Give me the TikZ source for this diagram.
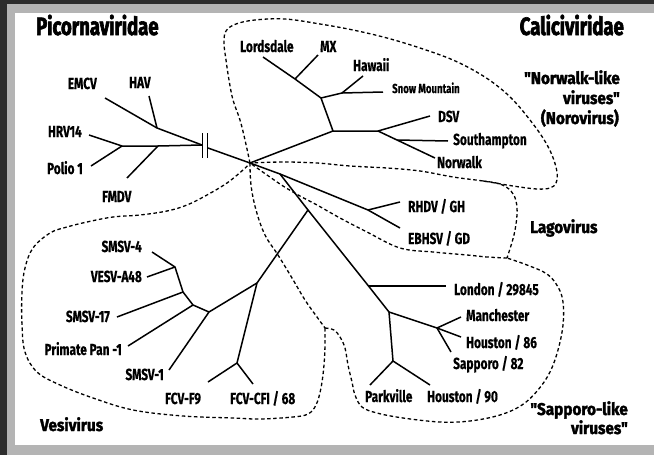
\documentclass[tikz,border=0pt]{standalone}
\usepackage{fontspec}
\setmainfont{Fira Sans}
\newfontfamily\labf{Fira Sans}[FakeStretch=0.74, BoldFeatures={FakeBold=0.5}]
\newfontfamily\titf{Fira Sans}[FakeStretch=0.74, BoldFeatures={FakeBold=2.5}]
\newfontfamily\subf{Fira Sans}[FakeStretch=0.9, BoldFeatures={FakeBold=2}]
\definecolor{darkband}{HTML}{2D2D2D}
\definecolor{lightband}{HTML}{B4B4B4}
\begin{document}
\begin{tikzpicture}[x=1pt,y=-1pt,
  br/.style={line width=1.5pt, line join=round},
  grp/.style={dash pattern=on 3.5pt off 2.6pt, line width=1.3pt},
  lab/.style={inner sep=0pt, font=\labf\bfseries\fontsize{16}{16}\selectfont},
  smlab/.style={inner sep=0pt, font=\labf\bfseries\fontsize{13}{13}\selectfont},
  ttl/.style={inner sep=0pt, font=\titf\bfseries\fontsize{25}{25}\selectfont},
  sub/.style={inner sep=0pt, font=\subf\bfseries\fontsize{17}{17}\selectfont}]
\useasboundingbox (0,0) rectangle (654,455);
% frame
\fill[lightband] (0,0) rectangle (654,455);
\fill[darkband] (0,0) rectangle (654,4);
\fill[darkband] (0,0) rectangle (7,455);
\fill[white] (15,13) rectangle (654,445);

% ---------- coordinates ----------
\coordinate (C) at (250,163);
% Picornaviridae
\coordinate (emcv) at (105,98);
\coordinate (havj) at (157,128);
\coordinate (hav) at (149,96);
\coordinate (hrv) at (89,135);
\coordinate (pj) at (122,146);
\coordinate (polio) at (91,166);
\coordinate (fmj) at (158,146);
\coordinate (fmdv) at (127,178);
\coordinate (brL) at (202,145);
\coordinate (brR) at (208,148);
\coordinate (barAt) at (202.5,133);
\coordinate (barAb) at (202.5,158);
\coordinate (barBt) at (207.5,133);
\coordinate (barBb) at (207.5,158);
% Norovirus
\coordinate (nj1) at (333,131);
\coordinate (nj2) at (321,98);
\coordinate (lmj) at (295,79);
\coordinate (lord) at (263,57);
\coordinate (mx) at (318,55);
\coordinate (hj) at (342,93);
\coordinate (haw) at (363,76);
\coordinate (snow) at (383,92);
\coordinate (dj) at (378,131);
\coordinate (dsv) at (430,116);
\coordinate (sj) at (397,140);
\coordinate (south) at (448,141);
\coordinate (norw) at (435,158);
% Lagovirus
\coordinate (lj0) at (280,174);
\coordinate (rj) at (368,210);
\coordinate (rhdv) at (400,202);
\coordinate (ebhsv) at (400,228);
% Sapovirus
\coordinate (vj) at (308,210);
\coordinate (lonj) at (368.5,286);
\coordinate (lon) at (446,286);
\coordinate (mj0) at (389,312);
\coordinate (mj) at (437,328);
\coordinate (man) at (461,317);
\coordinate (hou86) at (461,337);
\coordinate (sap82) at (451,352);
\coordinate (pkj) at (393,361);
\coordinate (park) at (370,385);
\coordinate (hou90) at (430,385);
% Vesivirus
\coordinate (fj0) at (257,283);
\coordinate (fj) at (237,363);
\coordinate (fcvf9) at (208,382);
\coordinate (fcvcfi) at (253,384);
\coordinate (sj1) at (209,312);
\coordinate (smsv1) at (169,370);
\coordinate (pj2) at (193,305);
\coordinate (prim) at (128,346);
\coordinate (sj17) at (183,292);
\coordinate (smsv17) at (117,317);
\coordinate (sj4) at (175,267);
\coordinate (smsv4) at (152,252);
\coordinate (vesv) at (147,277);

% ---------- branches ----------
\draw[br] (emcv) -- (havj) -- (brL);
\draw[br] (hav) -- (havj);
\draw[br] (hrv) -- (pj) -- (fmj) -- (brL);
\draw[br] (polio) -- (pj);
\draw[br] (fmdv) -- (fmj);
\draw[br] (barAt) -- (barAb);
\draw[br] (barBt) -- (barBb);
\draw[br] (brR) -- (C);
% noro
\draw[br] (C) -- (nj1) -- (nj2) -- (lmj) -- (lord);
\draw[br] (mx) -- (lmj);
\draw[br] (nj2) -- (hj) -- (haw);
\draw[br] (hj) -- (snow);
\draw[br] (nj1) -- (dj) -- (dsv);
\draw[br] (dj) -- (sj) -- (norw);
\draw[br] (sj) -- (south);
% lago
\draw[br] (C) -- (lj0) -- (rj) -- (ebhsv);
\draw[br] (rj) -- (rhdv);
% sapo
\draw[br] (lj0) -- (vj) -- (lonj) -- (mj0) -- (mj) -- (hou86);
\draw[br] (lonj) -- (lon);
\draw[br] (mj) -- (man);
\draw[br] (mj) -- (sap82);
\draw[br] (mj0) -- (pkj) -- (park);
\draw[br] (pkj) -- (hou90);
% vesi
\draw[br] (vj) -- (fj0) -- (fj) -- (fcvf9);
\draw[br] (fj) -- (fcvcfi);
\draw[br] (fj0) -- (sj1) -- (smsv1);
\draw[br] (sj1) -- (pj2) -- (prim);
\draw[br] (pj2) -- (sj17) -- (smsv17);
\draw[br] (sj17) -- (sj4) -- (smsv4);
\draw[br] (sj4) -- (vesv);

% ---------- group outlines ----------
\coordinate (lagsplit) at (483,181);
\coordinate (lagcorner) at (507,258);
\coordinate (vsplit) at (325,328);
% Norovirus
\draw[grp] plot[smooth, tension=0.6] coordinates {(C) (245,140) (240,120) (233,100) (229,80) (226,60) (224,43) (226,31) (236,24) (255,20) (285,19) (320,24) (353,30) (387,38) (420,48) (453,60) (480,74) (500,88) (515,102) (530,120) (543,138) (552,155) (557,172) (556,183) (550,188) (537,189) (513,186) (lagsplit) (453,177) (420,171) (387,168) (350,166) (317,163) (283,162) (C)};
% Lagovirus right side
\draw[grp] plot[smooth, tension=0.6] coordinates {(lagsplit) (500,184) (511,191) (516,201) (517,215) (514,235) (lagcorner)};
% Lagovirus bottom / Sapovirus top
\draw[grp] plot[smooth, tension=0.6] coordinates {(lagcorner) (487,257) (467,255) (433,252) (400,248) (367,232) (340,218) (317,205) (300,196) (283,186) (267,175) (C)};
% shared line Sapovirus / Vesivirus
\draw[grp] plot[smooth, tension=0.6] coordinates {(C) (251,185) (256,210) (265,235) (278,255) (292,278) (305,300) (317,317) (vsplit)};
% Sapovirus
\draw[grp] plot[smooth, tension=0.6] coordinates {(vsplit) (334,330) (340,337) (345,348) (348,365) (352,382) (355,395) (362,407) (377,413) (403,418) (440,422) (470,421) (500,415) (522,405) (538,390) (550,372) (558,350) (563,325) (563,302) (558,287) (547,274) (527,265) (lagcorner)};
% Vesivirus
\draw[grp] plot[smooth, tension=0.6] coordinates {(vsplit) (325,345) (324,365) (321,388) (316,405) (308,414) (293,417) (260,419) (233,418) (183,416) (133,410) (93,398) (60,385) (37,372) (25,352) (22,325) (22,292) (25,268) (33,248) (50,233) (67,227) (87,222) (113,217) (140,215) (167,211) (187,205) (207,195) (227,183) (243,170) (C)};

% ---------- labels ----------
\node[ttl, anchor=base west] (tpicorna) at (36,35) {Picornaviridae};
\node[ttl, anchor=base east] (tcalici) at (624,35) {Caliciviridae};
\node[sub, anchor=base east] (tnw1) at (620,84) {"Norwalk-like};
\node[sub, anchor=base east] (tnw2) at (620,104) {viruses"};
\node[sub, anchor=base east] (tnw3) at (619,124) {(Norovirus)};
\node[sub, anchor=base west] (tlago) at (530,233) {Lagovirus};
\node[sub, anchor=base west] (tvesi) at (40,431) {Vesivirus};
\node[sub, anchor=base east] (tsap1) at (628,415) {"Sapporo-like};
\node[sub, anchor=base east] (tsap2) at (628,434) {viruses"};

\node[lab, anchor=base east] (lemcv) at (97,89) {EMCV};
\node[lab, anchor=base west] (lhav) at (129,88) {HAV};
\node[lab, anchor=base east] (lhrv) at (82,137) {HRV14};
\node[lab, anchor=base east] (lpolio) at (83,174) {Polio 1};
\node[lab, anchor=base west] (lfmdv) at (102,202) {FMDV};
\node[lab, anchor=base west] (llord) at (240,52) {Lordsdale};
\node[lab, anchor=base west] (lmx) at (320,52) {MX};
\node[lab, anchor=base west] (lhaw) at (353,71) {Hawaii};
\node[smlab, anchor=base west] (lsnow) at (392,93) {Snow Mountain};
\node[lab, anchor=base west] (ldsv) at (438,122) {DSV};
\node[lab, anchor=base west] (lsouth) at (453,145) {Southampton};
\node[lab, anchor=base west] (lnorw) at (437,168) {Norwalk};
\node[lab, anchor=base west] (lrhdv) at (408,212) {RHDV / GH};
\node[lab, anchor=base west] (lebhsv) at (408,244) {EBHSV / GD};
\node[lab, anchor=base west] (llon) at (454,295) {London / 29845};
\node[lab, anchor=base west] (lman) at (466,321) {Manchester};
\node[lab, anchor=base west] (lhou86) at (466,348) {Houston / 86};
\node[lab, anchor=base west] (lsap82) at (453,369) {Sapporo / 82};
\node[lab, anchor=base west] (lpark) at (365,402) {Parkville};
\node[lab, anchor=base west] (lhou90) at (427,402) {Houston / 90};
\node[lab, anchor=base east] (lsmsv4) at (142,252) {SMSV-4};
\node[lab, anchor=base east] (lvesv) at (142,282) {VESV-A48};
\node[lab, anchor=base east] (lsmsv17) at (110,322) {SMSV-17};
\node[lab, anchor=base east] (lprim) at (122,355) {Primate Pan -1};
\node[lab, anchor=base east] (lsmsv1) at (164,380) {SMSV-1};
\node[lab, anchor=base west] (lfcvf9) at (165,404) {FCV-F9};
\node[lab, anchor=base west] (lfcvcfi) at (230,404) {FCV-CFI / 68};
\end{tikzpicture}
\end{document}
